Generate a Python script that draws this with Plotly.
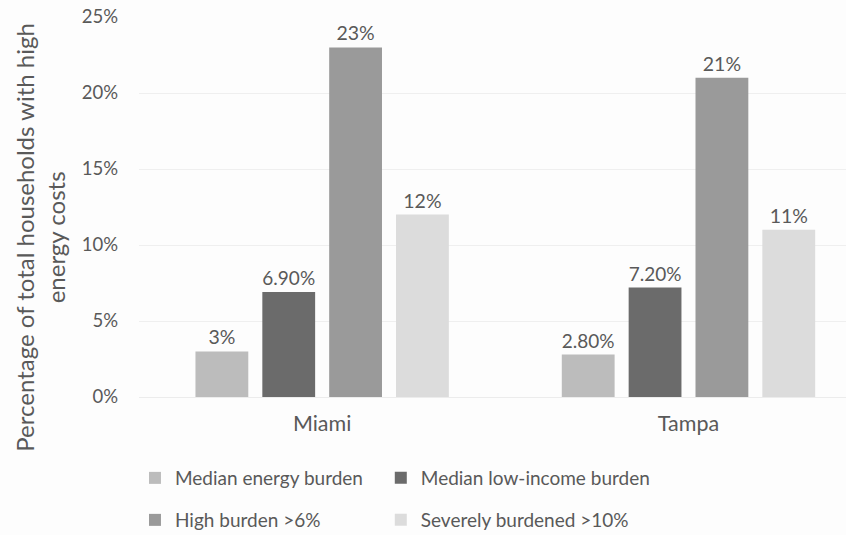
import plotly.graph_objects as go

# Cities on the x axis
cities = ["Miami", "Tampa"]

# Share of households per burden measure (fractions)
series_names = [
    "Median energy burden",
    "Median low-income burden",
    "High burden >6%",
    "Severely burdened >10%",
]
median_energy = [0.03, 0.028]
median_low_income = [0.069, 0.072]
high_burden = [0.23, 0.21]
severe_burden = [0.12, 0.11]

# Printed value labels above each bar
label_median_energy = ["3%", "2.80%"]
label_median_low_income = ["6.90%", "7.20%"]
label_high_burden = ["23%", "21%"]
label_severe_burden = ["12%", "11%"]

y_ticks = [0, 0.05, 0.10, 0.15, 0.20, 0.25]
y_tick_text = ["0%", "5%", "10%", "15%", "20%", "25%"]

y_title = "Percentage of total households with high<br>energy costs"

values = [median_energy, median_low_income, high_burden, severe_burden]
labels = [label_median_energy, label_median_low_income, label_high_burden, label_severe_burden]
colors = ["#bcbcbc", "#6b6b6b", "#9a9a9a", "#dcdcdc"]

TEXT = "#595959"
FONT = "Lato, 'Open Sans', sans-serif"

# One legend box per entry, laid out as a 2 x 2 grid in the bottom margin
legend_ids = ["legend", "legend2", "legend3", "legend4"]
legend_x = [-0.0057, 0.342, -0.0057, 0.342]
legend_y = [0.1065, 0.1065, 0.028, 0.028]

fig = go.Figure()
for name, vals, labs, col, lg in zip(series_names, values, labels, colors, legend_ids):
    fig.add_trace(go.Bar(
        x=cities,
        y=vals,
        name=name,
        text=labs,
        textposition="outside",
        textfont=dict(size=19.5, color=TEXT, family=FONT),
        cliponaxis=False,
        marker=dict(color=col, line=dict(width=0)),
        legend=lg,
        showlegend=True,
    ))

legends = {}
for lg, lx, ly in zip(legend_ids, legend_x, legend_y):
    legends[lg] = dict(
        orientation="h",
        xanchor="left",
        yanchor="middle",
        x=lx,
        y=ly,
        yref="container",
        font=dict(size=19, color=TEXT, family=FONT),
        bgcolor="rgba(0,0,0,0)",
        itemclick=False,
        itemdoubleclick=False,
    )

# Rotated two-line axis title
fig.add_annotation(
    text=y_title,
    textangle=-90,
    xref="paper",
    yref="paper",
    x=-0.1405,
    y=0.421,
    xanchor="center",
    yanchor="middle",
    showarrow=False,
    align="center",
    font=dict(size=24, color=TEXT, family=FONT),
)

fig.update_layout(
    width=846,
    height=535,
    margin=dict(l=139, r=0, t=17, b=138, autoexpand=False),
    paper_bgcolor="#fdfdfd",
    plot_bgcolor="#fdfdfd",
    font=dict(family=FONT, color=TEXT, size=16),
    showlegend=True,
    barmode="group",
    bargap=0.27,
    bargroupgap=0.21,
    xaxis=dict(
        range=[-0.5, 1.43],
        showgrid=False,
        showline=True,
        linecolor="#ececec",
        linewidth=1,
        ticks="",
        ticklabelstandoff=7,
        tickfont=dict(size=21.5, color=TEXT),
    ),
    yaxis=dict(
        range=[0, 0.25],
        tickvals=y_ticks,
        ticktext=y_tick_text,
        showgrid=True,
        gridcolor="#efefef",
        gridwidth=1,
        zeroline=False,
        showline=False,
        ticks="",
        ticklabelstandoff=20,
        tickfont=dict(size=18.5, color=TEXT),
    ),
    **legends,
)

fig.write_html("out.html")
